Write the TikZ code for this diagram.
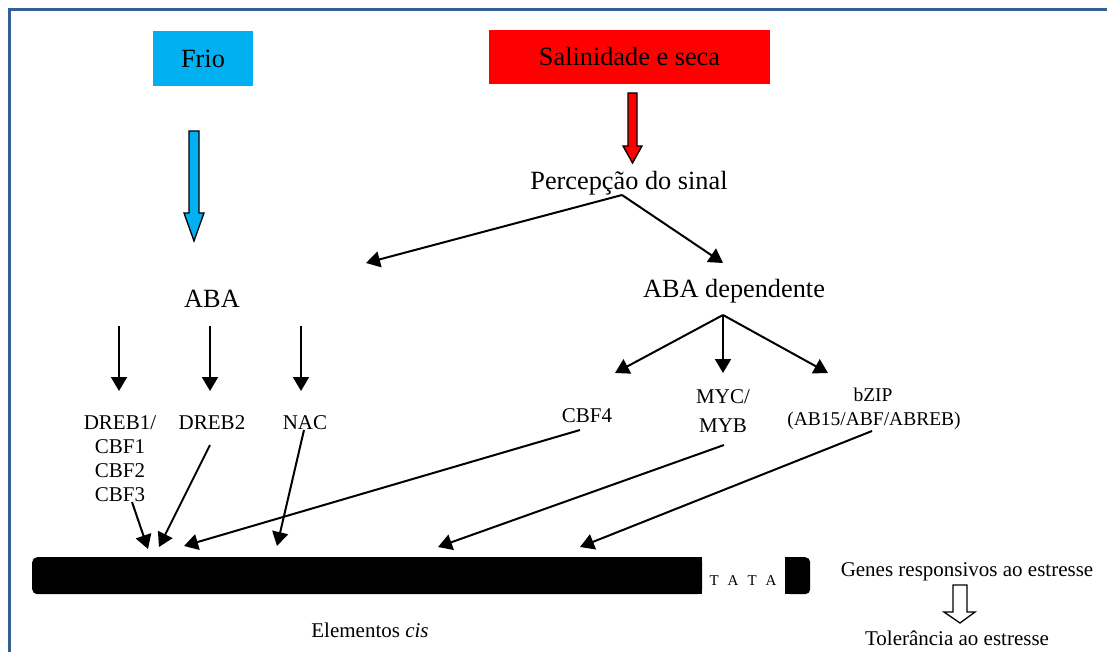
\documentclass[tikz,border=0pt]{standalone}
\usepackage{fontspec}
\setmainfont{Liberation Serif}
\usetikzlibrary{arrows.meta}
\definecolor{frameblue}{RGB}{54,95,145}
\definecolor{frioblue}{RGB}{0,176,240}
\begin{document}
\begin{tikzpicture}[x=1pt,y=-1pt,
  big/.style={font=\fontsize{26.3}{30}\selectfont, inner sep=0pt},
  small/.style={font=\fontsize{21}{24}\selectfont, inner sep=0pt},
  smaller/.style={font=\fontsize{19.5}{22}\selectfont, inner sep=0pt},
  arr/.style={line width=2pt, -{Triangle[length=14pt,width=16pt]}},
  blockarrow/.style={line width=1.3pt, draw=black, line join=miter}]
\fill[white] (0,0) rectangle (1107,652);
\useasboundingbox (0,0) rectangle (1107,652);
\begin{scope}
  \clip (0,0) rectangle (1107,652);
  \draw[frameblue, line width=3pt] (9.5,9.5) rectangle (1140,700);
\end{scope}

% stress boxes
\node[big, fill=frioblue, minimum width=100pt, minimum height=55pt] (frio) at (203,58.5) {Frio};
\node[big, fill=red, minimum width=281pt, minimum height=54pt] (sal) at (629.5,57) {Salinidade e seca};

% block arrows
\filldraw[blockarrow, fill=frioblue] (189,131) -- (199,131) -- (199,213) -- (204,213) -- (194,241) -- (184,213) -- (189,213) -- cycle;
\filldraw[blockarrow, fill=red] (628,93) -- (637,93) -- (637,146) -- (642,146) -- (632.5,163) -- (623,146) -- (628,146) -- cycle;

% texts
\node[big, anchor=base] (perc) at (629,190) {Percepção do sinal};
\node[big, anchor=base] (aba) at (212,307) {ABA};
\node[big, anchor=base] (abadep) at (734,297) {ABA dependente};

\node[small, anchor=base] (dreb1) at (120,429) {DREB1/};
\node[small, anchor=base] (cbf1) at (120,453) {CBF1};
\node[small, anchor=base] (cbf2) at (120,477) {CBF2};
\node[small, anchor=base] (cbf3) at (120,501) {CBF3};
\node[small, anchor=base] (dreb2) at (212,429) {DREB2};
\node[small, anchor=base] (nac) at (305,429) {NAC};
\node[small, anchor=base] (cbf4) at (587,422) {CBF4};
\node[small, anchor=base] (myc) at (723,403) {MYC/};
\node[small, anchor=base] (myb) at (723,432) {MYB};
\node[smaller, anchor=base] (bzip) at (873,401) {bZIP};
\node[smaller, anchor=base] (abf) at (874,425) {(AB15/ABF/ABREB)};

% cis bar
\node[fill=black, rounded corners=5pt, inner sep=0pt, minimum width=670pt, minimum height=37pt, anchor=north west] (bar) at (32,557) {};
\fill[black] (600,557) rectangle (702,594);
\node[fill=black, rounded corners=5pt, inner sep=0pt, minimum width=25pt, minimum height=37pt, anchor=north west] (barend) at (785,557) {};
\fill[black] (785,557) rectangle (795,594);
\node[font=\fontsize{15}{18}\selectfont, inner sep=0pt, anchor=base] (tata) at (743,585) {T\hspace{9pt}A\hspace{9pt}T\hspace{9pt}A};

\node[small, anchor=base] (cis) at (370,637) {Elementos \textit{cis}};
\node[small, anchor=base] (genes) at (967,576) {Genes responsivos ao estresse};
\node[small, anchor=base] (tol) at (957,645) {Tolerância ao estresse};

% hollow arrow
\filldraw[blockarrow, fill=white] (953,585) -- (967,585) -- (967,612) -- (975,612) -- (960,623) -- (944,612) -- (953,612) -- cycle;

% coordinates
\coordinate (split) at (622,195);
\coordinate (tipL) at (366,263);
\coordinate (tipR) at (723,263);
\coordinate (a1) at (119,326); \coordinate (a1e) at (119,391);
\coordinate (a2) at (210,326); \coordinate (a2e) at (210,391);
\coordinate (a3) at (301,326); \coordinate (a3e) at (301,391);
\coordinate (fork) at (723,315);
\coordinate (f1) at (615,373);
\coordinate (f2) at (723,373);
\coordinate (f3) at (828,373);
\coordinate (s1) at (132,502); \coordinate (t1) at (148,549);
\coordinate (s2) at (210,445); \coordinate (t2) at (159,547);
\coordinate (s3) at (580,430); \coordinate (t3) at (184,546);
\coordinate (s4) at (304,430); \coordinate (t4) at (277,546);
\coordinate (s5) at (724,445); \coordinate (t5) at (438,547);
\coordinate (s6) at (872,431); \coordinate (t6) at (580,547);

\draw[arr] (split) -- (tipL);
\draw[arr] (split) -- (tipR);
\draw[arr] (a1) -- (a1e);
\draw[arr] (a2) -- (a2e);
\draw[arr] (a3) -- (a3e);
\draw[arr] (fork) -- (f1);
\draw[arr] (fork) -- (f2);
\draw[arr] (fork) -- (f3);
\draw[arr] (s1) -- (t1);
\draw[arr] (s2) -- (t2);
\draw[arr] (s3) -- (t3);
\draw[arr] (s4) -- (t4);
\draw[arr] (s5) -- (t5);
\draw[arr] (s6) -- (t6);
\end{tikzpicture}
\end{document}
